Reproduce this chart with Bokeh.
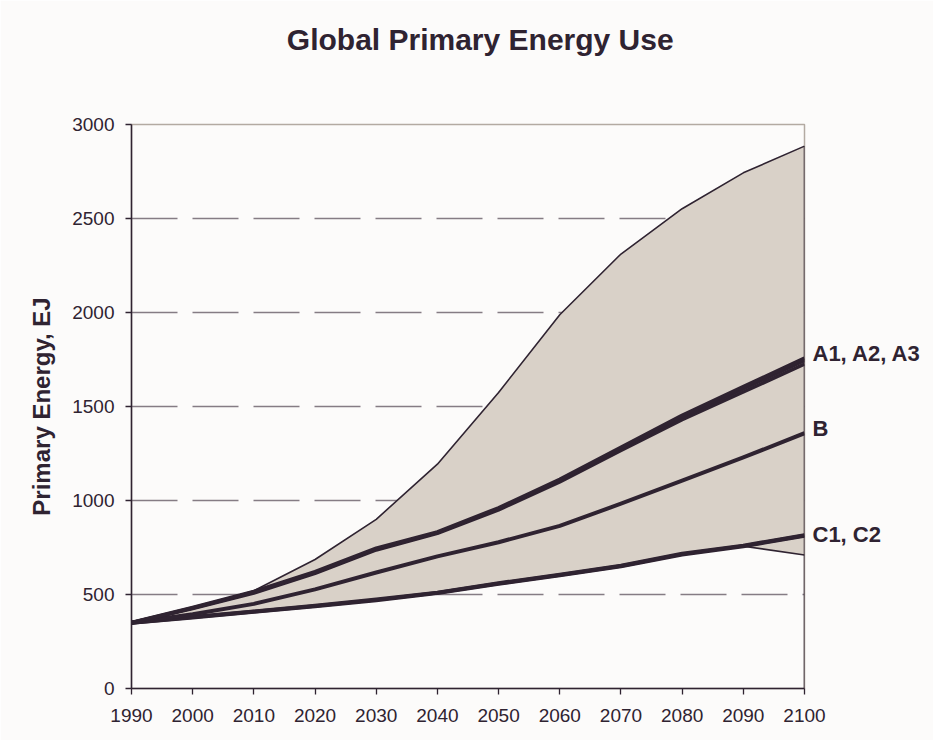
from bokeh.plotting import figure
from bokeh.models import Range1d, FixedTicker, LinearAxis
from bokeh.embed import file_html
from bokeh.resources import INLINE

# ---- data (EJ) ----
years = [1990, 2000, 2010, 2020, 2030, 2040, 2050, 2060, 2070, 2080, 2090, 2100]
upper = [350, 425, 520, 686, 900, 1193, 1575, 1988, 2311, 2552, 2743, 2885]
lower = [350, 378, 408, 437, 470, 508, 557, 602, 650, 713, 757, 710]
A1 = [350, 430, 515, 620, 745, 832, 960, 1112, 1282, 1452, 1605, 1756]
A2 = [350, 428, 512, 617, 741, 829, 956, 1107, 1276, 1445, 1594, 1744]
A3 = [350, 425, 508, 612, 737, 825, 950, 1099, 1266, 1430, 1577, 1726]
B = [350, 395, 450, 527, 617, 703, 778, 865, 983, 1106, 1229, 1358]
C1 = [350, 380, 410, 440, 473, 510, 560, 605, 653, 717, 760, 815]
C2 = [350, 378, 408, 437, 470, 508, 557, 602, 650, 713, 757, 812]
x_ticks = [1990, 2000, 2010, 2020, 2030, 2040, 2050, 2060, 2070, 2080, 2090, 2100]
y_ticks = [0, 500, 1000, 1500, 2000, 2500, 3000]
labels = ["A1, A2, A3", "B", "C1, C2"]
title = "Global Primary Energy Use"

DARK = "#2F2331"
FILL = "#D9D1C8"
BG = "#FCFBFA"
FONT = "Liberation Sans"
LABEL_NUDGE = [28, 24, 6]   # small upward shift of end labels (EJ)
TITLE_SHIFT = 2             # title sits slightly right of frame centre (years)

p = figure(width=933, height=740, output_backend="svg", toolbar_location=None,
           x_range=Range1d(1990, 2100), y_range=Range1d(0, 3000),
           min_border_left=131, min_border_right=129, min_border_top=124,
           min_border_bottom=52)
p.background_fill_color = BG
p.border_fill_color = BG
p.outline_line_color = "#B3AAA2"
p.outline_line_width = 1.5

# grid
p.xgrid.grid_line_color = None
p.ygrid.ticker = FixedTicker(ticks=y_ticks[1:-1])
p.ygrid.grid_line_color = "#857C84"
p.ygrid.grid_line_width = 1.3
p.ygrid.grid_line_dash = "46 15"

# axes
for ax in (p.xaxis[0], p.yaxis[0]):
    ax.axis_line_color = DARK
    ax.axis_line_width = 1.5
    ax.major_tick_line_color = DARK
    ax.major_tick_line_width = 1.3
    ax.major_tick_out = 6
    ax.major_tick_in = 0
    ax.minor_tick_line_color = None
    ax.major_label_text_font = FONT
    ax.major_label_text_font_size = "19px"
    ax.major_label_text_color = DARK
p.xaxis.ticker = FixedTicker(ticks=x_ticks)
p.yaxis.ticker = FixedTicker(ticks=y_ticks)
p.xaxis.major_label_standoff = 14
p.yaxis.major_label_standoff = 11
p.yaxis.axis_label = "Primary Energy, EJ"
p.yaxis.axis_label_text_font = FONT
p.yaxis.axis_label_text_font_size = "24px"
p.yaxis.axis_label_text_font_style = "bold"
p.yaxis.axis_label_text_color = DARK
p.yaxis.axis_label_standoff = 14

def bare_axis(ticks, texts, size, standoff):
    ax = LinearAxis(ticker=FixedTicker(ticks=ticks),
                    major_label_overrides={t: s for t, s in zip(ticks, texts)})
    ax.axis_line_color = None
    ax.major_tick_line_color = None
    ax.minor_tick_line_color = None
    ax.major_tick_out = 0
    ax.major_tick_in = 0
    ax.major_label_standoff = standoff
    ax.major_label_text_font = FONT
    ax.major_label_text_font_size = size
    ax.major_label_text_font_style = "bold"
    ax.major_label_text_color = DARK
    return ax

# end labels as a right-hand axis
ends = [A1[-1], B[-1], C1[-1]]
tick_pos = [e + n for e, n in zip(ends, LABEL_NUDGE)]
p.add_layout(bare_axis(tick_pos, labels, "22px", 8), "right")

# title as a top axis label
mid = (years[0] + years[-1]) // 2 + TITLE_SHIFT
p.add_layout(bare_axis([mid], [title], "30px", 69), "above")

# shaded range
p.varea(x=years, y1=lower, y2=upper, fill_color=FILL)
p.line(years, upper, line_color=DARK, line_width=1.6)
p.line(years, lower, line_color=DARK, line_width=1.6)
p.segment(x0=[years[-1]], y0=[0], x1=[years[-1]], y1=[upper[-1]],
          line_color=DARK, line_width=1.6)

# scenario lines
for ys, w in ((C2, 4.0), (C1, 4.0), (B, 4.0), (A3, 3.5), (A2, 3.5), (A1, 4.0)):
    p.line(years, ys, line_color=DARK, line_width=w, line_join="round")

open("out.html", "w").write(file_html(p, INLINE))
